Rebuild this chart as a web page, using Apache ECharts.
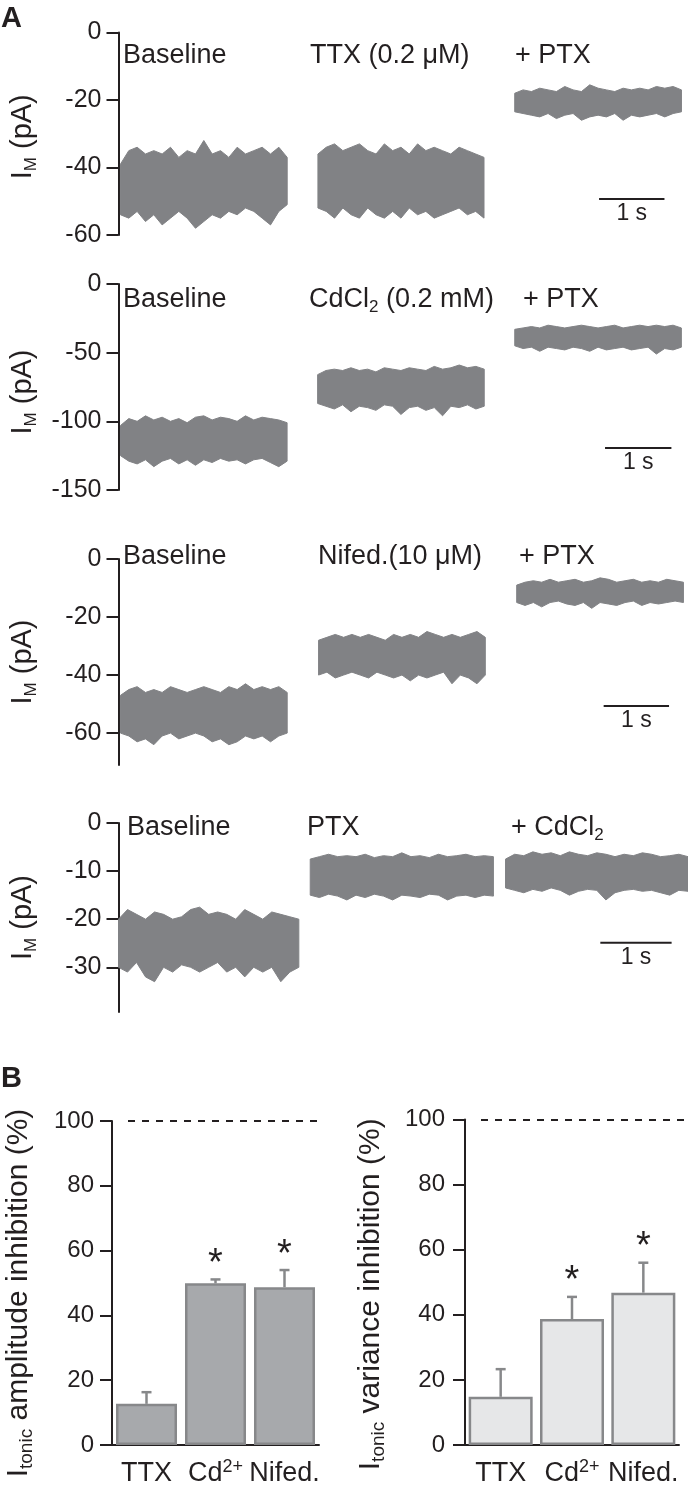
<!DOCTYPE html>
<html><head><meta charset="utf-8">
<script src="https://cdn.jsdelivr.net/npm/echarts@6/dist/echarts.min.js"></script>
<style>html,body{margin:0;padding:0;background:#fff}#c{width:688px;height:1490px}</style>
</head><body><div id="c"></div>
<script>
// ================= DATA =================
// Panel A: condition labels per row
const row1Labels = ['Baseline', 'TTX (0.2 μM)', '+ PTX'];
const row2Labels = ['Baseline', 'CdCl2 (0.2 mM)', '+ PTX'];
const row3Labels = ['Baseline', 'Nifed.(10 μM)', '+ PTX'];
const row4Labels = ['Baseline', 'PTX', '+ CdCl2'];

// y-axis ticks (pA) and axis bottom per row
const row1Ticks = [0, -20, -40, -60];
const row2Ticks = [0, -50, -100, -150];
const row3Ticks = [0, -20, -40, -60];
const row4Ticks = [0, -10, -20, -30];
const rowYMin = [-60, -150, -71, -39.3];
const rowXMax = [8.71, 8.58, 8.71, 7.99];   // visible time span (s)

// segment start / end times (s)
const row1Start = [0.03, 3.05, 6.06], row1End = [2.58, 5.59, 8.61];
const row2Start = [0.03, 3.00, 5.97], row2End = [2.54, 5.51, 8.48];
const row3Start = [0.03, 3.06, 6.09], row3End = [2.58, 5.61, 8.64];
const row4Start = [0.00, 2.69, 5.43], row4End = [2.53, 5.26, 7.99];

// trace envelopes (upper / lower edge of the noise band, pA)
const tr1aTop = [-39,-35,-34,-36,-35,-36,-34,-37,-35,-36,-32,-36,-35,-37,-34,-36,-35,-34,-36,-34,-37];
const tr1aBot = [-54,-55,-53,-56,-54,-57,-55,-53,-55,-58,-56,-54,-55,-53,-54,-52,-53,-55,-57,-53,-51];
const tr1bTop = [-36,-34,-33,-35,-34,-33,-35,-36,-33,-35,-34,-36,-33,-35,-34,-35,-36,-34,-35,-36,-37];
const tr1bBot = [-52,-53,-55,-52,-54,-55,-52,-54,-55,-53,-55,-52,-54,-53,-55,-54,-53,-52,-54,-53,-55];
const tr1cTop = [-18,-17,-17.5,-16.5,-17,-17.5,-16,-17,-17.5,-15.5,-16.5,-17,-17.5,-16.5,-17,-16.5,-17,-16,-16.5,-16,-17];
const tr1cBot = [-23.5,-24,-24.5,-25,-24,-25.5,-24.5,-24,-26,-25,-24.5,-25,-24,-26,-24.5,-25,-24.5,-24,-25,-24,-23.5];

const tr2aTop = [-103,-98,-100,-96,-99,-97,-100,-98,-101,-97,-96,-99,-97,-98,-100,-96,-99,-97,-98,-99,-101];
const tr2aBot = [-125,-129,-131,-128,-133,-129,-127,-131,-128,-132,-128,-130,-127,-129,-128,-131,-128,-127,-130,-133,-129];
const tr2bTop = [-66,-63,-62,-63,-61,-63,-62,-64,-61,-62,-63,-61,-62,-63,-60,-62,-61,-59,-61,-60,-62];
const tr2bBot = [-87,-89,-91,-88,-93,-89,-90,-92,-88,-89,-95,-90,-89,-92,-90,-96,-89,-90,-88,-91,-89];
const tr2cTop = [-33,-32,-31,-32,-30,-31,-32,-31,-30,-31,-32,-31,-30,-32,-31,-30,-31,-30,-31,-30,-32];
const tr2cBot = [-45,-47,-46,-49,-46,-47,-48,-46,-47,-49,-46,-48,-47,-46,-48,-47,-46,-51,-47,-48,-46];

const tr3aTop = [-47,-45,-44,-46,-45,-46,-44,-45,-46,-45,-44,-45,-46,-44,-45,-43,-45,-44,-45,-44,-46];
const tr3aBot = [-60,-61,-63,-62,-64,-61,-60,-62,-61,-60,-61,-63,-62,-64,-63,-61,-62,-61,-63,-61,-60];
const tr3bTop = [-28,-27,-26,-27,-26,-27,-26,-27,-28,-26,-27,-26,-27,-25,-26,-27,-26,-27,-26,-25,-27];
const tr3bBot = [-40,-39,-41,-40,-39,-40,-41,-39,-40,-41,-40,-42,-40,-41,-40,-39,-43,-40,-41,-43,-40];
const tr3cTop = [-9,-8,-7.5,-8,-7,-8,-7.5,-7,-8,-7.5,-6.5,-7,-8,-7.5,-7,-8,-7.5,-8,-7,-7.5,-8];
const tr3cBot = [-15,-16,-15,-16.5,-15,-14.5,-15.5,-16,-15,-17,-15,-15.5,-16,-15,-14.5,-16,-15,-15.5,-15,-14.5,-15];

const tr4aTop = [-20,-18,-19,-20,-18.5,-19,-20,-19.5,-18,-17.5,-19,-18.5,-19,-20,-18,-19,-20,-18.5,-19,-19.5,-20];
const tr4aBot = [-30,-31,-29,-32,-33,-30,-31,-29.5,-30,-31,-30,-29,-31,-30,-32,-30,-31,-30,-33,-31,-30];
const tr4bTop = [-7.5,-7,-6.5,-7,-6.8,-7,-6.5,-7.2,-6.8,-7,-6.2,-7,-6.8,-7.2,-6.5,-7,-6.8,-6.5,-7,-6.8,-7];
const tr4bBot = [-15,-15.5,-14.8,-15.2,-16,-15,-15.5,-14.8,-15.2,-16,-15,-15.2,-15.5,-14.8,-15,-16,-15.2,-15,-15.5,-15,-15.2];
const tr4cTop = [-7.5,-6.5,-6.8,-6,-6.5,-6.2,-6.8,-6,-6.5,-6.8,-6.2,-6.5,-7,-6.5,-6.8,-6.2,-6.5,-7,-6.8,-6.5,-7];
const tr4cBot = [-13.5,-14,-14.5,-13.8,-14.2,-13.5,-14,-15,-14.2,-13.8,-14,-16,-14.5,-14,-13.8,-14.2,-14,-14.5,-15,-14,-14.2];

// 1 s scale bars: start time (s) and level (pA)
const scaleBarStart = [7.35, 7.33, 7.42, 6.76];
const scaleBarLevel = [-49.3, -119.4, -50.7, -24.9];

// Panel B
const bCategories = ['TTX', 'Cd2+', 'Nifed.'];
const bTicks = [0, 20, 40, 60, 80, 100];
const amplitudeMean = [12.7, 49.9, 48.7];
const amplitudeErr  = [3.6, 1.2, 5.3];
const amplitudeSig  = [false, true, true];
const varianceMean  = [14.8, 38.7, 46.8];
const varianceErr   = [8.5, 6.8, 9.2];
const varianceSig   = [false, true, true];
const bReference = 100;

// ================= LAYOUT / STYLE =================
const FONT = 'Liberation Sans';
const INK = '#231f20';
const TRACE = '#818285';

const rows = [
  {labels: row1Labels, ticks: row1Ticks, start: row1Start, end: row1End, top: [tr1aTop, tr1bTop, tr1cTop], bot: [tr1aBot, tr1bBot, tr1cBot]},
  {labels: row2Labels, ticks: row2Ticks, start: row2Start, end: row2End, top: [tr2aTop, tr2bTop, tr2cTop], bot: [tr2aBot, tr2bBot, tr2cBot]},
  {labels: row3Labels, ticks: row3Ticks, start: row3Start, end: row3End, top: [tr3aTop, tr3bTop, tr3cTop], bot: [tr3aBot, tr3bBot, tr3cBot]},
  {labels: row4Labels, ticks: row4Ticks, start: row4Start, end: row4End, top: [tr4aTop, tr4bTop, tr4cTop], bot: [tr4aBot, tr4bBot, tr4cBot]}
];
const rowGridTop = [32.5, 284, 559, 823];
const rowGridHeight = [202.5, 206, 206, 189];
const rowLabelX = [[123, 310, 515], [123, 309, 523], [123, 318, 519], [127, 307, 511]];
const rowLabelY = [56, 300, 557, 828];
const rowNamePad = [6, 10, 0, 0];

function richChem(s) {
  return s.replace(/Cl2/g, 'Cl{s|2}').split(/(\{s\|2\})/).map(p => p.startsWith('{s|') ? p : (p ? '{n|' + p + '}' : '')).join('');
}

const grid = [], xAxis = [], yAxis = [], series = [], graphic = [];

rows.forEach((r, i) => {
  grid.push({left: 113, top: rowGridTop[i], height: rowGridHeight[i], width: 575});
  xAxis.push({type: 'value', gridIndex: i, min: 0, max: rowXMax[i], show: false});
  yAxis.push({
    type: 'value', gridIndex: i, min: rowYMin[i], max: 0,
    axisLine: {show: true, lineStyle: {color: INK, width: 2}},
    axisTick: {show: true, length: 12, lineStyle: {color: INK, width: 2}, customValues: r.ticks},
    axisLabel: {customValues: r.ticks, fontSize: 25, color: INK, margin: 17, fontFamily: FONT},
    splitLine: {show: false},
    name: '{a|I}{b|M}{a| (pA)}', nameLocation: 'middle', nameGap: 79,
    nameTextStyle: {fontFamily: FONT, color: INK, padding: [0, rowNamePad[i], 0, 0], rich: {
      a: {fontSize: 29, lineHeight: 34, fontFamily: FONT, color: INK},
      b: {fontSize: 17, lineHeight: 17, verticalAlign: 'bottom', fontFamily: FONT, color: INK}
    }}
  });
  series.push({
    type: 'custom', xAxisIndex: i, yAxisIndex: i, silent: true,
    data: r.start.map((s, k) => [s, r.end[k]]),
    renderItem: (params, api) => {
      const k = params.dataIndex;
      const t0 = api.value(0), t1 = api.value(1);
      const top = r.top[k], bot = r.bot[k];
      const n = top.length;
      const pts = [];
      for (let j = 0; j < n; j++) pts.push(api.coord([t0 + (t1 - t0) * j / (n - 1), top[j]]));
      for (let j = n - 1; j >= 0; j--) pts.push(api.coord([t0 + (t1 - t0) * j / (n - 1), bot[j]]));
      return {type: 'polygon', shape: {points: pts}, style: {fill: TRACE, stroke: TRACE, lineWidth: 1}};
    }
  });
  // scale bar
  series.push({
    type: 'custom', xAxisIndex: i, yAxisIndex: i, silent: true,
    data: [[scaleBarStart[i], scaleBarLevel[i]]],
    renderItem: (params, api) => {
      const a = api.coord([api.value(0), api.value(1)]);
      const b = api.coord([api.value(0) + 1, api.value(1)]);
      return {type: 'group', children: [
        {type: 'line', shape: {x1: a[0], y1: a[1], x2: b[0], y2: b[1]}, style: {stroke: INK, lineWidth: 2}},
        {type: 'text', x: (a[0] + b[0]) / 2, y: a[1] + 3, style: {text: '1 s', fontSize: 23, fontFamily: FONT, fill: INK, align: 'center', verticalAlign: 'top'}}
      ]};
    }
  });
  r.labels.forEach((lab, k) => {
    graphic.push({type: 'text', x: rowLabelX[i][k], y: rowLabelY[i], style: {
      text: richChem(lab), align: 'left', verticalAlign: 'middle', fill: INK,
      rich: {n: {fontSize: 27, lineHeight: 32, fontFamily: FONT, fill: INK},
             s: {fontSize: 17, lineHeight: 17, verticalAlign: 'bottom', fontFamily: FONT, fill: INK}}
    }});
  });
});

// ---- Panel B ----
const bPanels = [
  {mean: amplitudeMean, err: amplitudeErr, sig: amplitudeSig, left: 112, top: 1121, width: 207, height: 324, barWidth: 61,
   fill: '#a7a9ac', name: '{a|I}{b|tonic}{a| amplitude inhibition (%)}', nameGap: 76, labelMargin: 18, namePad: 20},
  {mean: varianceMean, err: varianceErr, sig: varianceSig, left: 465, top: 1119.5, width: 214, height: 325.5, barWidth: 64,
   fill: '#e6e7e8', name: '{a|I}{b|tonic}{a| variance inhibition (%)}', nameGap: 77, labelMargin: 20, namePad: 24}
];
bPanels.forEach((p, j) => {
  const gi = 4 + j;
  grid.push({left: p.left, top: p.top, width: p.width, height: p.height});
  xAxis.push({
    type: 'category', gridIndex: gi, data: bCategories,
    axisLine: {show: true, lineStyle: {color: INK, width: 2}},
    axisTick: {show: false},
    axisLabel: {fontSize: 27, color: INK, fontFamily: FONT, margin: 13, interval: 0,
      formatter: v => v.replace(/^(Cd)(2\+)$/, '{n|$1}{p|$2}').replace(/^([^{].*)$/, '{n|$1}'),
      rich: {n: {fontSize: 27, lineHeight: 32, fontFamily: FONT, color: INK},
             p: {fontSize: 18, lineHeight: 18, verticalAlign: 'top', fontFamily: FONT, color: INK}}}
  });
  yAxis.push({
    type: 'value', gridIndex: gi, min: 0, max: 100, interval: 20,
    axisLine: {show: true, lineStyle: {color: INK, width: 2}},
    axisTick: {show: true, length: 12, lineStyle: {color: INK, width: 2}},
    axisLabel: {fontSize: 24, color: INK, fontFamily: FONT, margin: p.labelMargin},
    splitLine: {show: false},
    name: p.name, nameLocation: 'middle', nameGap: p.nameGap,
    nameTextStyle: {fontFamily: FONT, color: INK, padding: [0, p.namePad, 0, 0], rich: {
      a: {fontSize: 30, lineHeight: 35, fontFamily: FONT, color: INK},
      b: {fontSize: 19, lineHeight: 19, verticalAlign: 'bottom', fontFamily: FONT, color: INK}
    }}
  });
  series.push({
    type: 'bar', xAxisIndex: gi, yAxisIndex: gi, data: p.mean, barWidth: p.barWidth, silent: true,
    itemStyle: {color: p.fill, borderColor: '#87888a', borderWidth: 2.5}
  });
  series.push({
    type: 'custom', xAxisIndex: gi, yAxisIndex: gi, silent: true, z: 5,
    data: p.mean.map((m, k) => [k, m, m + p.err[k], p.sig[k] ? 1 : 0]),
    renderItem: (params, api) => {
      const base = api.coord([api.value(0), api.value(1)]);
      const tip = api.coord([api.value(0), api.value(2)]);
      const ch = [
        {type: 'line', shape: {x1: base[0], y1: base[1], x2: tip[0], y2: tip[1]}, style: {stroke: '#87888a', lineWidth: 2.5}},
        {type: 'line', shape: {x1: tip[0] - 5, y1: tip[1], x2: tip[0] + 5, y2: tip[1]}, style: {stroke: '#87888a', lineWidth: 2.5}}
      ];
      if (api.value(3)) ch.push({type: 'text', x: tip[0], y: tip[1] - 15, style: {text: '*', fontSize: 38, fontFamily: FONT, fill: INK, align: 'center', verticalAlign: 'middle'}});
      return {type: 'group', children: ch};
    },
    markLine: {
      silent: true, symbol: 'none', animation: false, label: {show: false},
      lineStyle: {color: INK, width: 2, type: [7, 7]},
      data: [[{x: p.left + 16, yAxis: bReference}, {x: p.left + p.width + (j === 0 ? 1 : 9), yAxis: bReference}]]
    }
  });
});

graphic.push({type: 'text', x: 1, y: 19, style: {text: 'A', fontSize: 29, fontWeight: 'bold', fontFamily: FONT, fill: INK, verticalAlign: 'middle'}});
graphic.push({type: 'text', x: 1, y: 1079, style: {text: 'B', fontSize: 29, fontWeight: 'bold', fontFamily: FONT, fill: INK, verticalAlign: 'middle'}});

const chart = echarts.init(document.getElementById('c'), null, {renderer: 'canvas'});
chart.setOption({animation: false, backgroundColor: '#fff', grid, xAxis, yAxis, series, graphic});
</script></body></html>
